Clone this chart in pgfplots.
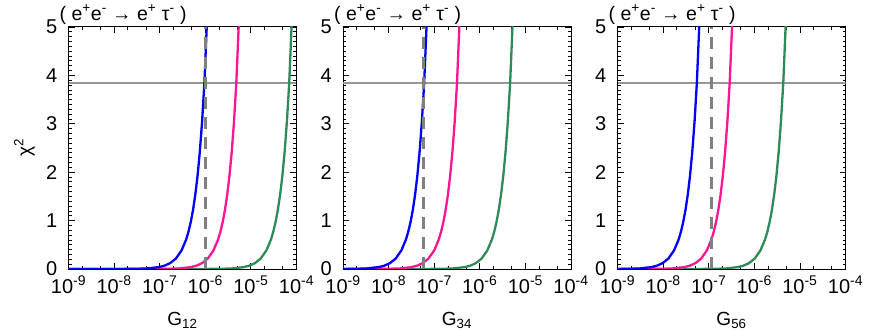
\documentclass[border=0pt]{standalone}
\usepackage{fontspec}
\setmainfont{Liberation Sans}
\usepackage{pgfplots}
\pgfplotsset{compat=1.18}
\definecolor{cblue}{RGB}{0,0,255}
\definecolor{cpink}{RGB}{255,20,147}
\definecolor{cgreen}{RGB}{46,139,87}
\definecolor{hgray}{RGB}{150,150,150}
\definecolor{dgray}{RGB}{128,128,128}
\pgfplotsset{chi/.style={
  scale only axis, width=228bp, height=242bp,
  anchor=south west,
  xmin=-9, xmax=-4, ymin=0, ymax=5,
  xtick={-9,-8,-7,-6,-5,-4},
  xticklabels={10\textsuperscript{-9},10\textsuperscript{-8},10\textsuperscript{-7},10\textsuperscript{-6},10\textsuperscript{-5},10\textsuperscript{-4}},
  minor xtick={-8.699,-8.301,-7.699,-7.301,-6.699,-6.301,-5.699,-5.301,-4.699,-4.301},
  ytick={0,1,2,3,4,5},
  minor y tick num=9,
  tick align=inside,
  major tick length=6bp, minor tick length=3bp,
  every tick/.append style={black, line width=0.8bp},
  axis line style={line width=1bp},
  tick label style={font=\fontsize{20bp}{22bp}\selectfont, inner sep=0pt},
  xticklabel style={yshift=-7bp},
  yticklabel style={xshift=-11bp},
  /pgf/number format/assume math mode=true,
  title style={at={(rel axis cs:0,1)}, anchor=base west, xshift=-9bp, yshift=1bp, inner sep=0pt, font=\fontsize{19.5bp}{21bp}\selectfont},
  title={( e\textsuperscript{+}e\textsuperscript{-} → e\textsuperscript{+} τ\textsuperscript{-} )},
  xlabel style={at={(axis description cs:0.5,-0.232)}, anchor=base, inner sep=0pt, font=\fontsize{19bp}{21bp}\selectfont},
  every axis plot/.append style={no marks, line width=2.3bp},
}}
\begin{document}
\begin{tikzpicture}
\useasboundingbox (0,0) rectangle (872bp,333bp);
% ---------------- panel 1
\begin{axis}[chi, at={(68.5bp,64bp)}, xlabel={G\textsubscript{12}},
  ylabel={χ\textsuperscript{2}},
  ylabel style={at={(axis description cs:-0.165,0.5)}, anchor=base, font=\fontsize{19bp}{21bp}\selectfont}]
\addplot[hgray, line width=1.5bp] coordinates {(-9,3.84) (-4,3.84)};
\addplot[cgreen] coordinates {(-9,0) (-6.16,0.0004) (-5.66,0.0038) (-5.41,0.0121) (-5.16,0.0384) (-5.035,0.0683) (-4.91,0.1214) (-4.785,0.2159) (-4.66,0.384) (-4.56,0.6086) (-4.51,0.766) (-4.46,0.9646) (-4.41,1.2143) (-4.36,1.5288) (-4.31,1.9245) (-4.26,2.4229) (-4.21,3.0502) (-4.16,3.84) (-4.06,6.086)};
\addplot[cpink] coordinates {(-9,0) (-7.32,0.0004) (-6.82,0.0038) (-6.57,0.0121) (-6.32,0.0384) (-6.195,0.0683) (-6.07,0.1214) (-5.945,0.2159) (-5.82,0.384) (-5.72,0.6086) (-5.67,0.766) (-5.62,0.9646) (-5.57,1.2143) (-5.52,1.5288) (-5.47,1.9245) (-5.42,2.4229) (-5.37,3.0502) (-5.32,3.84) (-5.22,6.086)};
\addplot[cblue] coordinates {(-9,0) (-8.02,0.0004) (-7.52,0.0038) (-7.27,0.0121) (-7.02,0.0384) (-6.895,0.0683) (-6.77,0.1214) (-6.645,0.2159) (-6.52,0.384) (-6.42,0.6086) (-6.37,0.766) (-6.32,0.9646) (-6.27,1.2143) (-6.22,1.5288) (-6.17,1.9245) (-6.12,2.4229) (-6.07,3.0502) (-6.02,3.84) (-5.92,6.086)};
\addplot[dgray, line width=3bp, dash pattern=on 12bp off 8bp] coordinates {(-6.0,0) (-6.0,5)};
\end{axis}
% ---------------- panel 2
\begin{axis}[chi, at={(343bp,64bp)}, xlabel={G\textsubscript{34}}, yticklabel={}]
\addplot[hgray, line width=1.5bp] coordinates {(-9,3.84) (-4,3.84)};
\addplot[cgreen] coordinates {(-9,0) (-7.335,0.0004) (-6.835,0.0038) (-6.585,0.0121) (-6.335,0.0384) (-6.21,0.0683) (-6.085,0.1214) (-5.96,0.2159) (-5.835,0.384) (-5.735,0.6086) (-5.685,0.766) (-5.635,0.9646) (-5.585,1.2143) (-5.535,1.5288) (-5.485,1.9245) (-5.435,2.4229) (-5.385,3.0502) (-5.335,3.84) (-5.235,6.086)};
\addplot[cpink] coordinates {(-9,0) (-8.5,0.0004) (-8.0,0.0038) (-7.75,0.0121) (-7.5,0.0384) (-7.375,0.0683) (-7.25,0.1214) (-7.125,0.2159) (-7.0,0.384) (-6.9,0.6086) (-6.85,0.766) (-6.8,0.9646) (-6.75,1.2143) (-6.7,1.5288) (-6.65,1.9245) (-6.6,2.4229) (-6.55,3.0502) (-6.5,3.84) (-6.4,6.086)};
\addplot[cblue] coordinates {(-9,0.0011) (-8.72,0.0038) (-8.47,0.0121) (-8.22,0.0384) (-8.095,0.0683) (-7.97,0.1214) (-7.845,0.2159) (-7.72,0.384) (-7.62,0.6086) (-7.57,0.766) (-7.52,0.9646) (-7.47,1.2143) (-7.42,1.5288) (-7.37,1.9245) (-7.32,2.4229) (-7.27,3.0502) (-7.22,3.84) (-7.12,6.086)};
\addplot[dgray, line width=3bp, dash pattern=on 12bp off 8bp] coordinates {(-7.23,0) (-7.23,5)};
\end{axis}
% ---------------- panel 3
\begin{axis}[chi, at={(617.5bp,64bp)}, xlabel={G\textsubscript{56}}, yticklabel={}]
\addplot[hgray, line width=1.5bp] coordinates {(-9,3.84) (-4,3.84)};
\addplot[cgreen] coordinates {(-9,0) (-7.365,0.0004) (-6.865,0.0038) (-6.615,0.0121) (-6.365,0.0384) (-6.24,0.0683) (-6.115,0.1214) (-5.99,0.2159) (-5.865,0.384) (-5.765,0.6086) (-5.715,0.766) (-5.665,0.9646) (-5.615,1.2143) (-5.565,1.5288) (-5.515,1.9245) (-5.465,2.4229) (-5.415,3.0502) (-5.365,3.84) (-5.265,6.086)};
\addplot[cpink] coordinates {(-9,0) (-8.54,0.0004) (-8.04,0.0038) (-7.79,0.0121) (-7.54,0.0384) (-7.415,0.0683) (-7.29,0.1214) (-7.165,0.2159) (-7.04,0.384) (-6.94,0.6086) (-6.89,0.766) (-6.84,0.9646) (-6.79,1.2143) (-6.74,1.5288) (-6.69,1.9245) (-6.64,2.4229) (-6.59,3.0502) (-6.54,3.84) (-6.44,6.086)};
\addplot[cblue] coordinates {(-9,0.0013) (-8.76,0.0038) (-8.51,0.0121) (-8.26,0.0384) (-8.135,0.0683) (-8.01,0.1214) (-7.885,0.2159) (-7.76,0.384) (-7.66,0.6086) (-7.61,0.766) (-7.56,0.9646) (-7.51,1.2143) (-7.46,1.5288) (-7.41,1.9245) (-7.36,2.4229) (-7.31,3.0502) (-7.26,3.84) (-7.16,6.086)};
\addplot[dgray, line width=3bp, dash pattern=on 12bp off 8bp] coordinates {(-6.94,0) (-6.94,5)};
\end{axis}
\end{tikzpicture}
\end{document}
